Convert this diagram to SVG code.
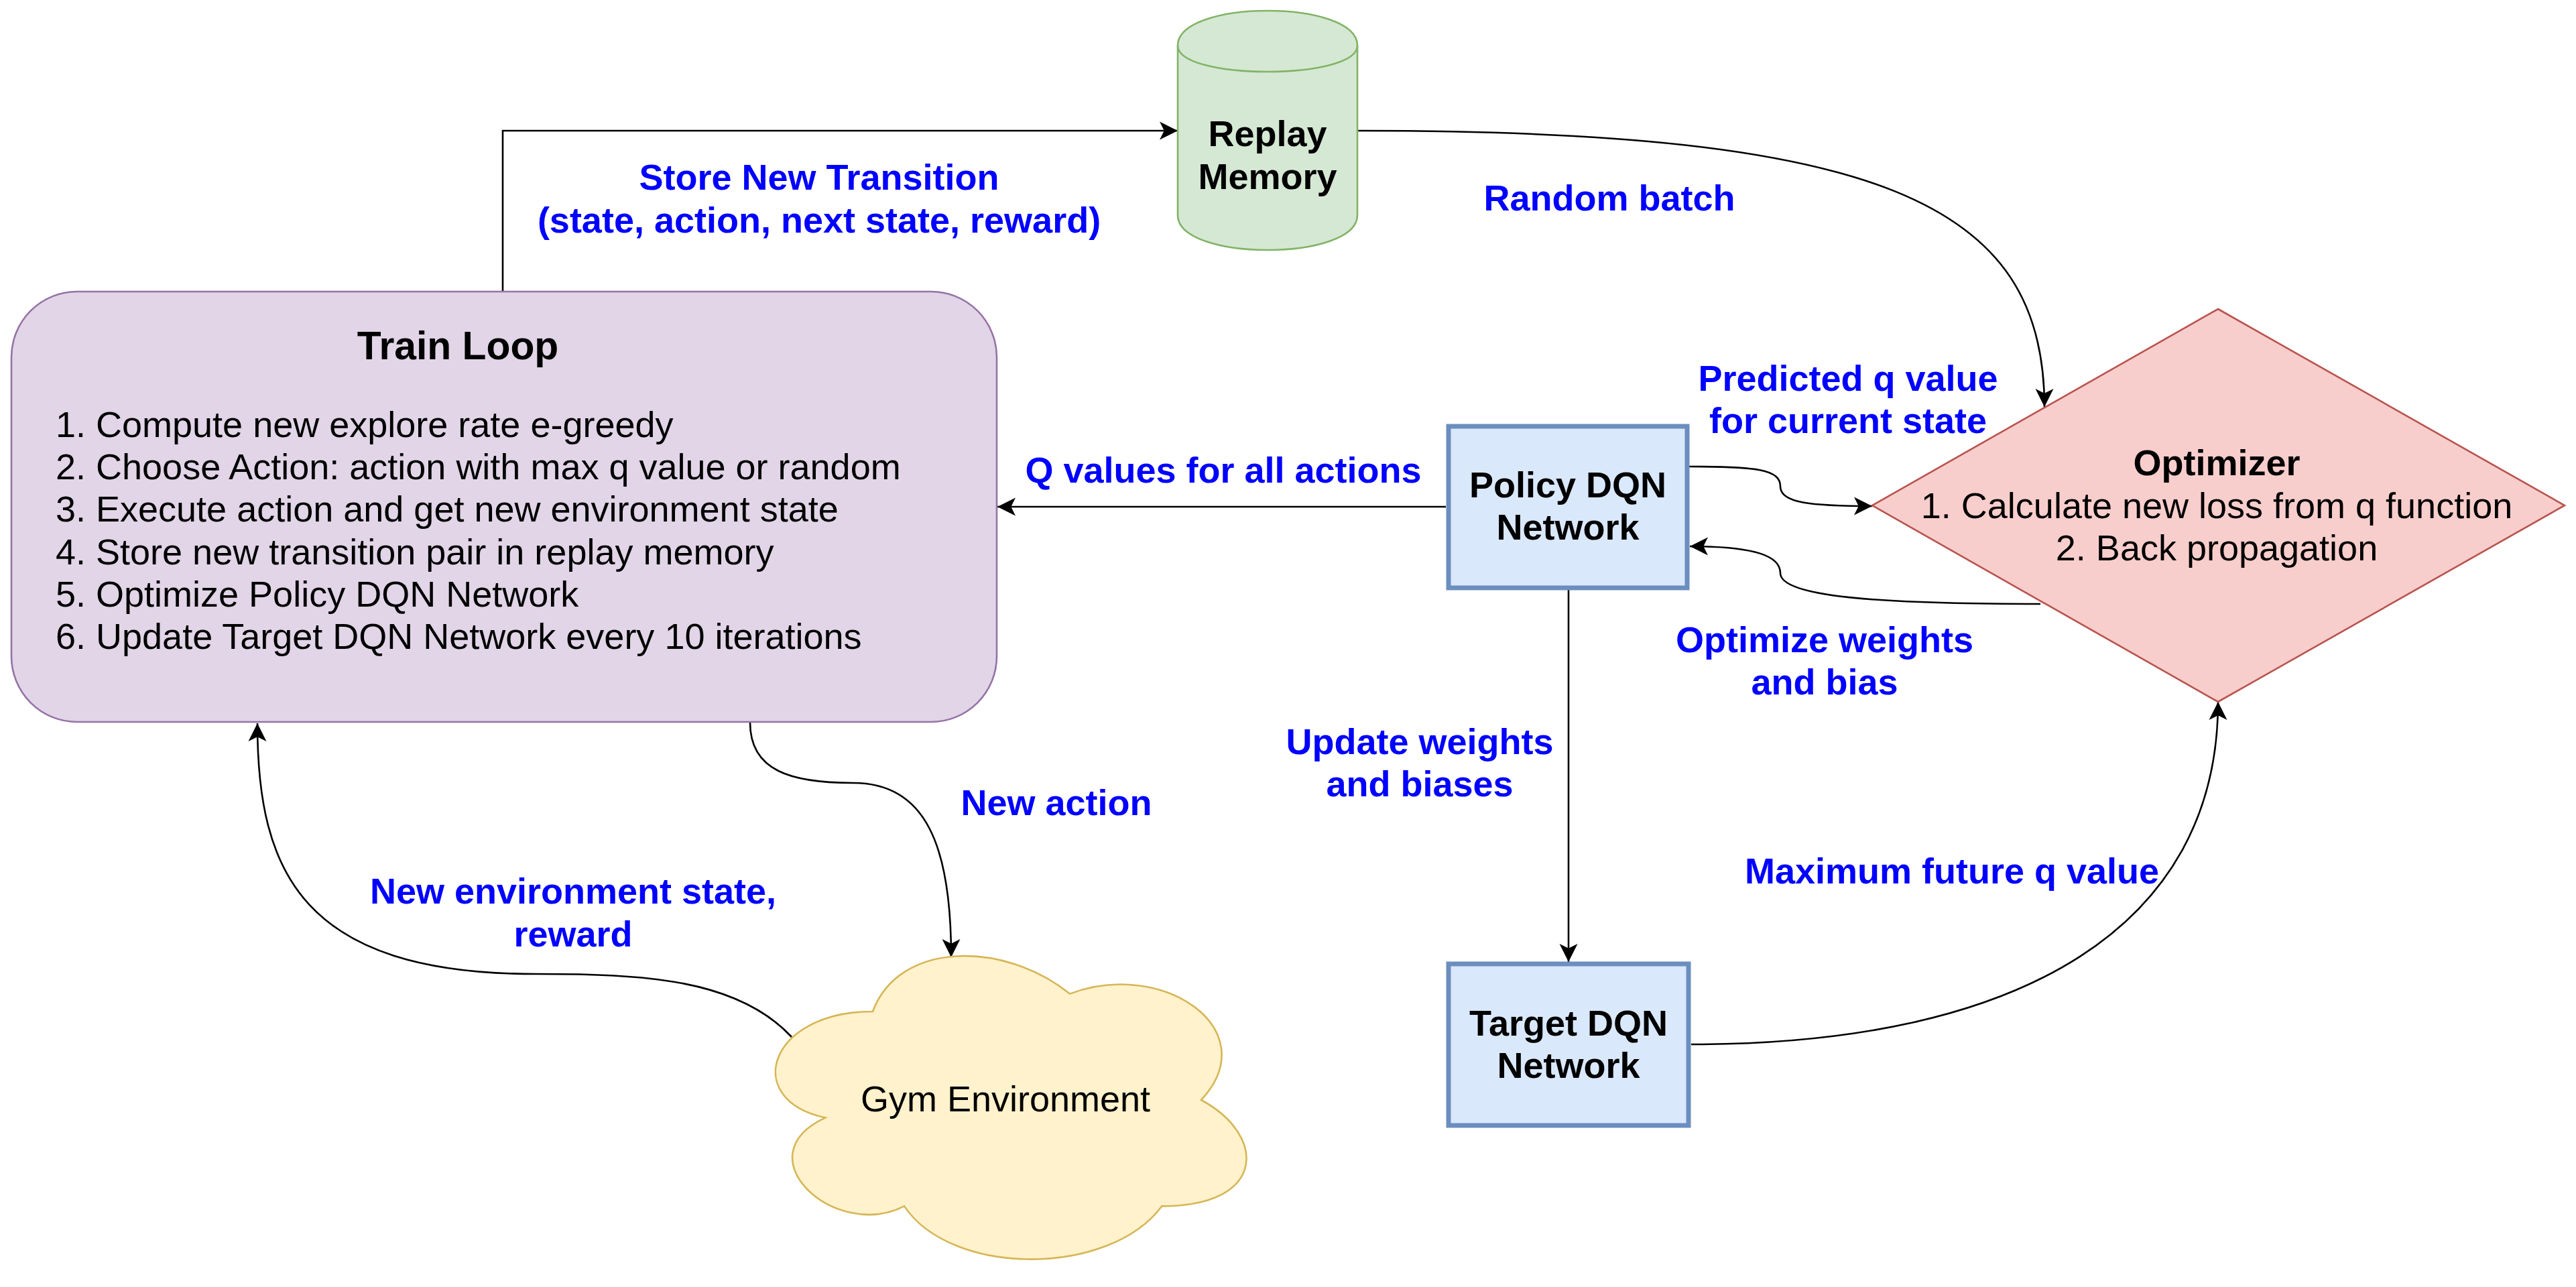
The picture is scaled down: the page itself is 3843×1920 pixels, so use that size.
<svg xmlns="http://www.w3.org/2000/svg" width="3843" height="1920" viewBox="0 0 3843 1920">
<defs>
<marker id="arr" markerUnits="userSpaceOnUse" markerWidth="27" markerHeight="27" refX="27" refY="13.5" orient="auto" overflow="visible">
<path d="M27,13.5 L0,0 L6.75,13.5 L0,27 Z" fill="#000"/>
</marker>
</defs>
<style>
text{font-family:"Liberation Sans",Arial,sans-serif;font-size:54px;fill:#000}
.b{font-weight:bold}
.lbl{font-weight:bold;fill:#0000FF;text-anchor:middle}
.c{text-anchor:middle}
.edge{fill:none;stroke:#000;stroke-width:2.6;marker-end:url(#arr)}
.net{fill:#DAE8FC;stroke:#6C8EBF;stroke-width:7}
</style>
<rect width="3843" height="1920" fill="#fff"/>
<g id="connectors">
<path class="edge" d="M750,434 L750,195 L1757,195"/>
<path class="edge" d="M2025,195 C2800,195 3050,300 3050,607"/>
<path class="edge" d="M2157,756 L1488,756"/>
<path class="edge" d="M2520,696 C2620,696 2656,700 2656,726 C2656,750 2700,755 2793,755"/>
<path class="edge" d="M3044,901 C2800,901 2656,890 2656,855 C2656,830 2620,815 2521,815"/>
<path class="edge" d="M2340,880 L2340,1435"/>
<path class="edge" d="M2523,1558 C3020,1558 3309,1380 3309,1047"/>
<path class="edge" d="M1119,1078 C1119,1150 1180,1168 1273,1168 C1380,1168 1419,1260 1419,1428"/>
<path class="edge" d="M1181,1547 C1100,1460 960,1453 800,1453 C450,1453 384,1300 384,1079"/>
</g>
<g id="labels">
<text class="lbl" x="1222" y="283">Store New Transition</text>
<text class="lbl" x="1222" y="347">(state, action, next state, reward)</text>
<text class="lbl" x="2401" y="314">Random batch</text>
<text class="lbl" x="2757" y="583">Predicted q value</text>
<text class="lbl" x="2757" y="646">for current state</text>
<text class="lbl" x="1825" y="720">Q values for all actions</text>
<text class="lbl" x="2722" y="973">Optimize weights</text>
<text class="lbl" x="2722" y="1036">and bias</text>
<text class="lbl" x="2118" y="1125">Update weights</text>
<text class="lbl" x="2118" y="1188">and biases</text>
<text class="lbl" x="1576" y="1216">New action</text>
<text class="lbl" x="2912" y="1318">Maximum future q value</text>
<text class="lbl" x="855" y="1348">New environment state,</text>
<text class="lbl" x="855" y="1412">reward</text>
</g>
<g id="train-loop">
<rect x="17" y="435" width="1470" height="642" rx="98" ry="98" fill="#E1D5E7" stroke="#9673A6" stroke-width="2.6"/>
<text class="b c" x="683" y="536" style="font-size:58.8px">Train Loop</text>
<text x="83" y="652">1. Compute new explore rate e-greedy</text>
<text x="83" y="715">2. Choose Action: action with max q value or random</text>
<text x="83" y="778">3. Execute action and get new environment state</text>
<text x="83" y="842">4. Store new transition pair in replay memory</text>
<text x="83" y="905">5. Optimize Policy DQN Network</text>
<text x="83" y="968">6. Update Target DQN Network every 10 iterations</text>
</g>
<g id="replay-memory">
<path d="M1757,68 C1757,-1.3 2025,-1.3 2025,68 L2025,321 C2025,390.3 1757,390.3 1757,321 Z" fill="#D5E8D4" stroke="#82B366" stroke-width="2.6"/>
<path d="M1757,68 C1757,120 2025,120 2025,68" fill="none" stroke="#82B366" stroke-width="2.6"/>
<text class="b c" x="1891" y="218">Replay</text>
<text class="b c" x="1891" y="282">Memory</text>
</g>
<g id="policy-dqn">
<rect class="net" x="2161" y="636" width="356" height="241"/>
<text class="b c" x="2339" y="742">Policy DQN</text>
<text class="b c" x="2339" y="805">Network</text>
</g>
<g id="target-dqn">
<rect class="net" x="2161" y="1438" width="358" height="241"/>
<text class="b c" x="2340" y="1545">Target DQN</text>
<text class="b c" x="2340" y="1608">Network</text>
</g>
<g id="optimizer">
<path d="M3309,461 L3826,754 L3309,1047 L2793,754 Z" fill="#F8CECC" stroke="#B85450" stroke-width="2.6"/>
<text class="b c" x="3307" y="709">Optimizer</text>
<text class="c" x="3307" y="773">1. Calculate new loss from q function</text>
<text class="c" x="3307" y="836">2. Back propagation</text>
</g>
<g id="gym-environment">
<path d="M1302,1509 C1145.2,1509 1106,1641 1231.4,1667.4 C1106,1725.5 1247.1,1852.2 1349,1799.4 C1419.6,1905 1654.8,1905 1733.2,1799.4 C1890,1799.4 1890,1693.8 1792,1641 C1890,1535.4 1733.2,1429.8 1596,1482.6 C1498,1403.4 1341.2,1403.4 1302,1509 Z" fill="#FFF2CC" stroke="#D6B656" stroke-width="2.6"/>
<text class="c" x="1500" y="1658">Gym Environment</text>
</g>
</svg>
